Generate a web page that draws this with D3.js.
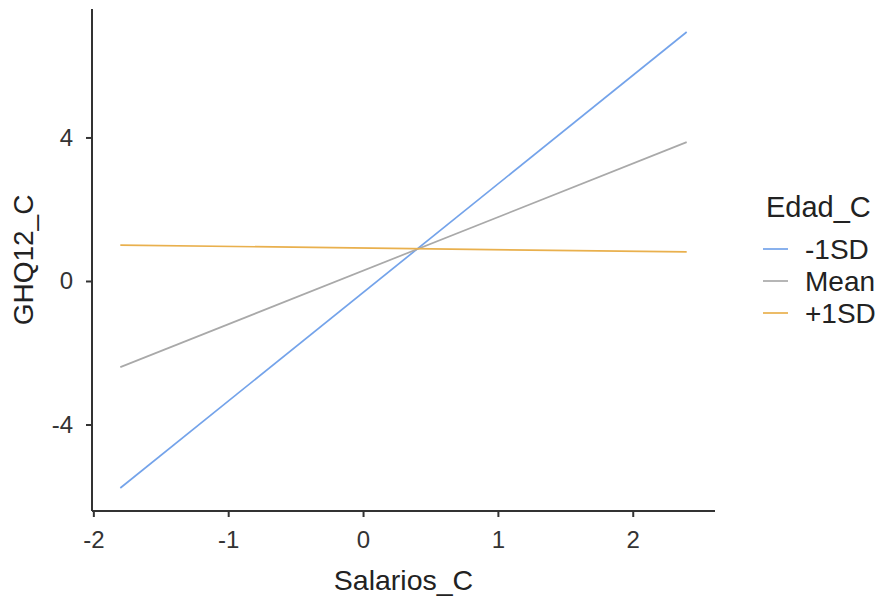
<!DOCTYPE html>
<html><head><meta charset="utf-8">
<script src="https://cdn.jsdelivr.net/npm/d3@7"></script>
<style>body{margin:0;background:#fff;}svg{font-family:"Liberation Sans",Arial,sans-serif;}</style>
</head><body>
<svg id="c" width="881" height="598"></svg>
<script>
const groups = ["-1SD", "Mean", "+1SD"];
const colors = ["#74a3ea", "#a9a9a9", "#e9b04d"];
const xValues = [-1.8, 2.4];
const yMinus1SD = [-5.77, 6.94];
const yMean = [-2.40, 3.87];
const yPlus1SD = [1.00, 0.81];
const xTicks = [-2, -1, 0, 1, 2];
const yTicks = [-4, 0, 4];
const series = [yMinus1SD, yMean, yPlus1SD];

const svg = d3.select("#c");
const pL = 92, pR = 715, pT = 9, pB = 511;
const xs = d3.scaleLinear().domain([-2.01, 2.61]).range([pL, pR]);
const ys = d3.scaleLinear().domain([-6.41, 7.58]).range([pB, pT]);

const line = d3.line().x(d => xs(d[0])).y(d => ys(d[1]));
series.forEach((s, i) => {
  svg.append("path").datum(xValues.map((x, j) => [x, s[j]]))
    .attr("d", line).attr("fill", "none").attr("stroke", colors[i]).attr("stroke-width", 1.7);
});

const fmt = d => String(d);
const xAxis = svg.append("g").attr("transform", `translate(0,${pB})`)
  .call(d3.axisBottom(xs).tickValues(xTicks).tickSize(6).tickPadding(14).tickFormat(fmt));
const yAxis = svg.append("g").attr("transform", `translate(${pL},0)`)
  .call(d3.axisLeft(ys).tickValues(yTicks).tickSize(6).tickPadding(13).tickFormat(fmt));
[xAxis, yAxis].forEach(a => {
  a.select(".domain").attr("stroke", "#333").attr("stroke-width", 2);
  a.selectAll(".tick line").attr("stroke", "#333").attr("stroke-width", 2);
  a.selectAll(".tick text").attr("fill", "#333").style("font-size", "24px");
});
xAxis.select(".domain").attr("d", `M${pL},0H${pR}`);
yAxis.select(".domain").attr("d", `M0,${pT}V${pB}`);

svg.append("text").attr("x", (pL + pR) / 2).attr("y", 590).attr("text-anchor", "middle")
  .attr("fill", "#222").style("font-size", "28.5px").text("Salarios_C");
svg.append("text").attr("transform", `translate(33,${(pT + pB) / 2}) rotate(-90)`)
  .attr("text-anchor", "middle").attr("fill", "#222").style("font-size", "28px").text("GHQ12_C");

const lg = svg.append("g");
lg.append("text").attr("x", 766).attr("y", 217).attr("fill", "#222").style("font-size", "29px").text("Edad_C");
groups.forEach((g, i) => {
  const y = 249 + i * 32;
  lg.append("line").attr("x1", 763).attr("x2", 788).attr("y1", y).attr("y2", y)
    .attr("stroke", colors[i]).attr("stroke-width", 1.7);
  lg.append("text").attr("x", 805).attr("y", y + 10).attr("fill", "#222").style("font-size", "28px").text(g);
});
</script>
</body></html>
